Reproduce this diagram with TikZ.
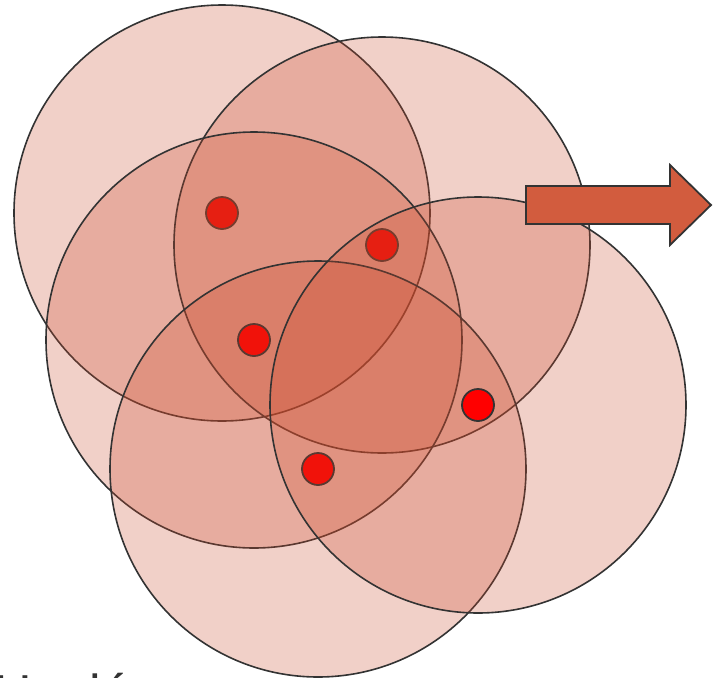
\documentclass[tikz,border=0pt]{standalone}
\usepackage{fontspec}
\setmainfont{Liberation Sans}
\definecolor{disc}{RGB}{202,72,42}
\definecolor{edge}{RGB}{51,51,51}
\definecolor{arrowfill}{RGB}{210,92,62}
\begin{document}
\begin{tikzpicture}[x=1pt,y=-1pt,
  zone/.style={circle,minimum size=416pt,inner sep=0pt,draw=edge,line width=1.6pt,
    fill=disc,fill opacity=0.26,draw opacity=1},
  spot/.style={circle,minimum size=32pt,inner sep=0pt,draw=edge,line width=1.8pt,fill=red}]
\useasboundingbox (0,0) rectangle (713,678);
\begin{scope}
\clip (0,0) rectangle (713,678);
\node[zone] (c1) at (222,213) {};
\node[spot] (d1) at (222,213) {};
\node[zone] (c2) at (382,245) {};
\node[spot] (d2) at (382,245) {};
\node[zone] (c3) at (254,340) {};
\node[spot] (d3) at (254,340) {};
\node[zone] (c5) at (318,469) {};
\node[spot] (d5) at (318,469) {};
\node[zone] (c4) at (478,405) {};
\node[spot] (d4) at (478,405) {};
\draw[draw=edge,line width=1.8pt,fill=arrowfill,line join=miter]
  (526,186) -- (670,186) -- (670,165) -- (711,205) -- (670,245) -- (670,224) -- (526,224) -- cycle;
\node[anchor=base west,inner sep=0pt,font=\fontsize{52pt}{60pt}\selectfont,text=edge] (cap) at (-6,711) {Haulé};
\end{scope}
\end{tikzpicture}
\end{document}
